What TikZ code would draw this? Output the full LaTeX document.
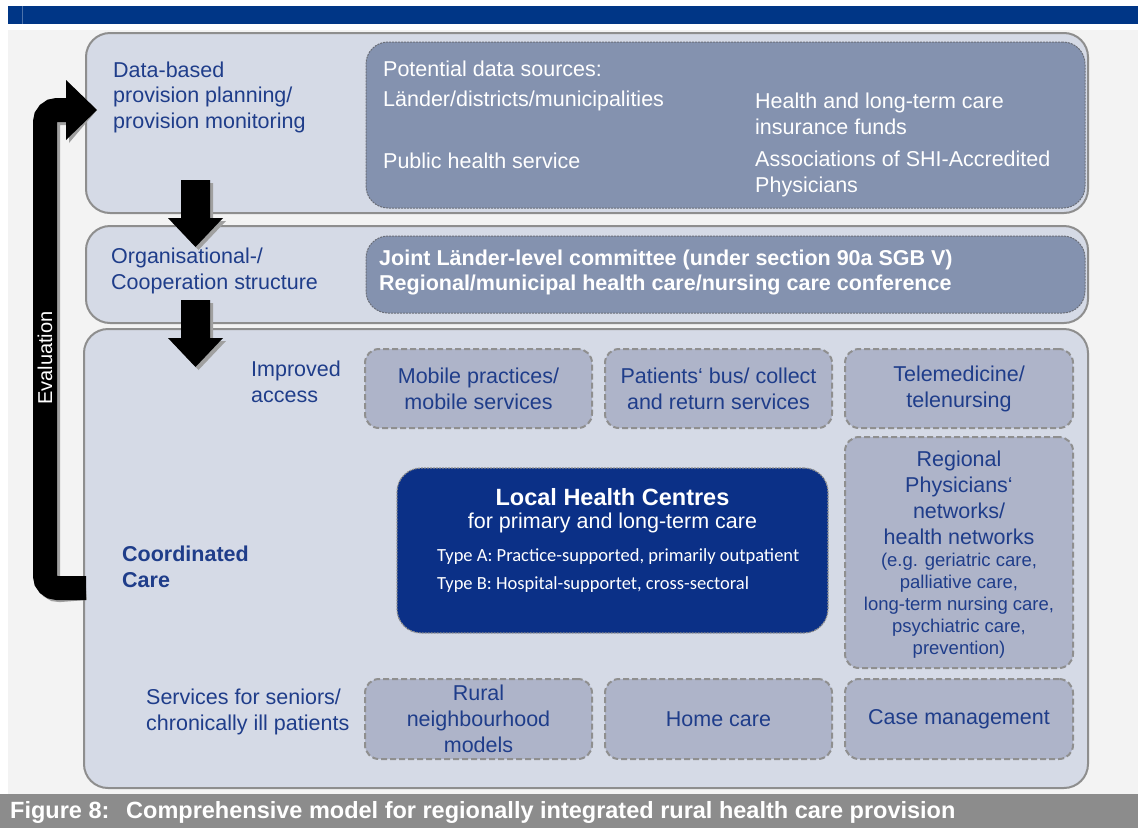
\documentclass[tikz,border=0pt]{standalone}
\usepackage{fontspec}
\setmainfont{Liberation Sans}
\newfontfamily\calib{Carlito}
\newcommand{\setfs}[2]{\fontsize{#1pt}{#2pt}\selectfont}
\definecolor{lblue}{HTML}{1F3D8A}
\definecolor{outerfill}{HTML}{D5DAE6}
\definecolor{outerdraw}{HTML}{8E8E8E}
\definecolor{datafill}{HTML}{8492AF}
\definecolor{datadraw}{HTML}{6A6E78}
\definecolor{dfill}{HTML}{AEB4C9}
\definecolor{ddraw}{HTML}{8F8F8F}
\definecolor{lhcfill}{HTML}{0B3087}
\definecolor{topblue}{HTML}{003686}
\definecolor{capgray}{HTML}{8C8C8C}
\definecolor{bggray}{HTML}{F3F3F3}
\definecolor{shadowgray}{HTML}{A0A0A0}
\begin{document}
\begin{tikzpicture}[x=1pt,y=-1pt,
 outer/.style={draw=outerdraw, line width=2pt, fill=outerfill, rounded corners=24pt, inner sep=0pt},
 srcbox/.style={draw=datadraw, dash pattern=on 2pt off 1pt, line width=1pt, fill=datafill, rounded corners=22pt, inner sep=0pt},
 dbox/.style={draw=ddraw, dash pattern=on 6pt off 3pt, line width=2pt, fill=dfill, rounded corners=14pt, inner sep=0pt, align=center, text=lblue, font=\setfs{21.5}{26}},
 lhcbox/.style={draw=ddraw, dash pattern=on 2pt off 1pt, line width=1.2pt, fill=lhcfill, rounded corners=24pt, inner sep=0pt},
 lbl/.style={text=lblue, font=\setfs{21.5}{25.5}, align=left, inner sep=0pt, anchor=west},
 wtxt/.style={text=white, font=\setfs{21.5}{26.5}, align=left, inner sep=0pt, anchor=west},
 shd/.style={fill=shadowgray},
 blk/.style={fill=black},
]
\useasboundingbox (0,0) rectangle (1138,828);
\fill[white] (0,0) rectangle (1138,828);
\fill[bggray] (8,30) rectangle (1138,794);
\fill[topblue] (8,6) rectangle (1138,24);
\draw[topblue!70!white, line width=1pt] (22.5,6) -- (22.5,24);
\fill[capgray] (0,794) rectangle (1138,828);

% main panels
\node[outer, minimum width=1002pt, minimum height=180pt] (plan) at (587,123) {};
\node[outer, minimum width=1002pt, minimum height=97pt] (org) at (587,274.5) {};
\node[outer, minimum width=1004pt, minimum height=459pt] (care) at (586,558.5) {};

% data sources
\node[srcbox, minimum width=719pt, minimum height=166pt] (src) at (725.5,125) {};
\node[wtxt] (src0) at (383,69) {Potential data sources:};
\node[wtxt] (src1) at (383,101) {Länder/districts/municipalities};
\node[wtxt] (src2) at (383,161) {Public health service};
\node[wtxt] (src3) at (755,114) {Health and long-term care\\insurance funds};
\node[wtxt] (src4) at (755,174) {Associations of SHI-Accredited\\Physicians};

% committee
\node[srcbox, minimum width=719pt, minimum height=77pt] (comm) at (725.5,274.5) {};
\node[wtxt, font=\bfseries\setfs{21.5}{25.5}] (commtxt) at (379,272.5) {Joint Länder-level committee (under section 90a SGB V)\\Regional/municipal health care/nursing care conference};

% row labels
\node[lbl] (planlbl) at (113,97) {Data-based\\provision planning/\\provision monitoring};
\node[lbl] (orglbl) at (111,271) {Organisational-/\\Cooperation structure};
\node[lbl] (acclbl) at (251,382) {Improved\\access};
\node[lbl, font=\bfseries\setfs{21.5}{26.5}] (coordlbl) at (122,567) {Coordinated\\Care};
\node[lbl] (svclbl) at (146,712) {Services for seniors/\\chronically ill patients};

% dashed boxes
\node[dbox, minimum width=227pt, minimum height=79pt] (mobile) at (478.5,388.5) {Mobile practices/\\mobile services};
\node[dbox, minimum width=227pt, minimum height=79pt] (bus) at (718.5,388.5) {Patients‘ bus/ collect\\and return services};
\node[dbox, minimum width=228pt, minimum height=79pt] (tele) at (959,388.5) {Telemedicine/\\telenursing};
\node[dbox, minimum width=228pt, minimum height=231pt] (regional) at (959,552.5) {};
\node[text=lblue, align=center, font=\setfs{21.5}{26}, inner sep=0pt] (regtxt1) at (959,497.5) {Regional\\Physicians‘\\networks/\\health networks};
\node[text=lblue, align=center, font=\setfs{18.5}{22}, inner sep=0pt] (regtxt2) at (959,606) {(e.g. geriatric care,\\palliative care,\\long-term nursing care,\\psychiatric care,\\prevention)};
\node[dbox, minimum width=227pt, minimum height=80pt] (rural) at (478.5,719) {Rural\\neighbourhood\\models};
\node[dbox, minimum width=227pt, minimum height=80pt] (home) at (718.5,719) {Home care};
\node[dbox, minimum width=228pt, minimum height=80pt] (casem) at (959,719) {Case management};

% local health centres
\node[lhcbox, minimum width=431pt, minimum height=165pt] (lhc) at (612.5,550.5) {};
\node[text=white, font=\bfseries\setfs{23.5}{28}, inner sep=0pt] (lhct) at (612.5,497) {Local Health Centres};
\node[text=white, font=\setfs{21.5}{26}, inner sep=0pt] (lhcs) at (612.5,523) {for primary and long-term care};
\node[text=white, font=\calib\setfs{18.5}{22}, inner sep=0pt, anchor=west] (lhca) at (437,557) {Type A: Practice-supported, primarily outpatient};
\node[text=white, font=\calib\setfs{18.5}{22}, inner sep=0pt, anchor=west] (lhcb) at (437,585) {Type B: Hospital-supportet, cross-sectoral};

% evaluation arrow
\coordinate (evalfoot) at (86,588);
\coordinate (evaltip) at (97,110);
\begin{scope}[shift={(3,3)}]
 \draw[shadowgray, line width=24pt, rounded corners=12pt] (evalfoot) -- (45,588) -- (45,110) -- (68,110);
 \fill[shd] (66,80) -- (evaltip) -- (66,140) -- cycle;
\end{scope}
\draw[black, line width=24pt, rounded corners=12pt] (evalfoot) -- (45,588) -- (45,110) -- (68,110);
\fill[blk] (66,80) -- (evaltip) -- (66,140) -- cycle;
\node[rotate=90, text=white, font=\setfs{20}{24}, inner sep=0pt] (evaltxt) at (45,358) {Evaluation};

% down arrows
\begin{scope}[shift={(3,3)}]
 \fill[shd] (181,180) -- (210,180) -- (210,218) -- (223,218) -- (195.5,247) -- (168,218) -- (181,218) -- cycle;
 \fill[shd] (181,300) -- (210,300) -- (210,338) -- (223,338) -- (195.5,367) -- (168,338) -- (181,338) -- cycle;
\end{scope}
\fill[blk] (181,180) -- (210,180) -- (210,218) -- (223,218) -- (195.5,247) -- (168,218) -- (181,218) -- cycle;
\fill[blk] (181,300) -- (210,300) -- (210,338) -- (223,338) -- (195.5,367) -- (168,338) -- (181,338) -- cycle;

% caption
\node[anchor=west, text=white, font=\bfseries\setfs{23.5}{28}, inner sep=0pt] (caption) at (10,812) {\makebox[116pt][l]{Figure 8:}Comprehensive model for regionally integrated rural health care provision};
\end{tikzpicture}
\end{document}
